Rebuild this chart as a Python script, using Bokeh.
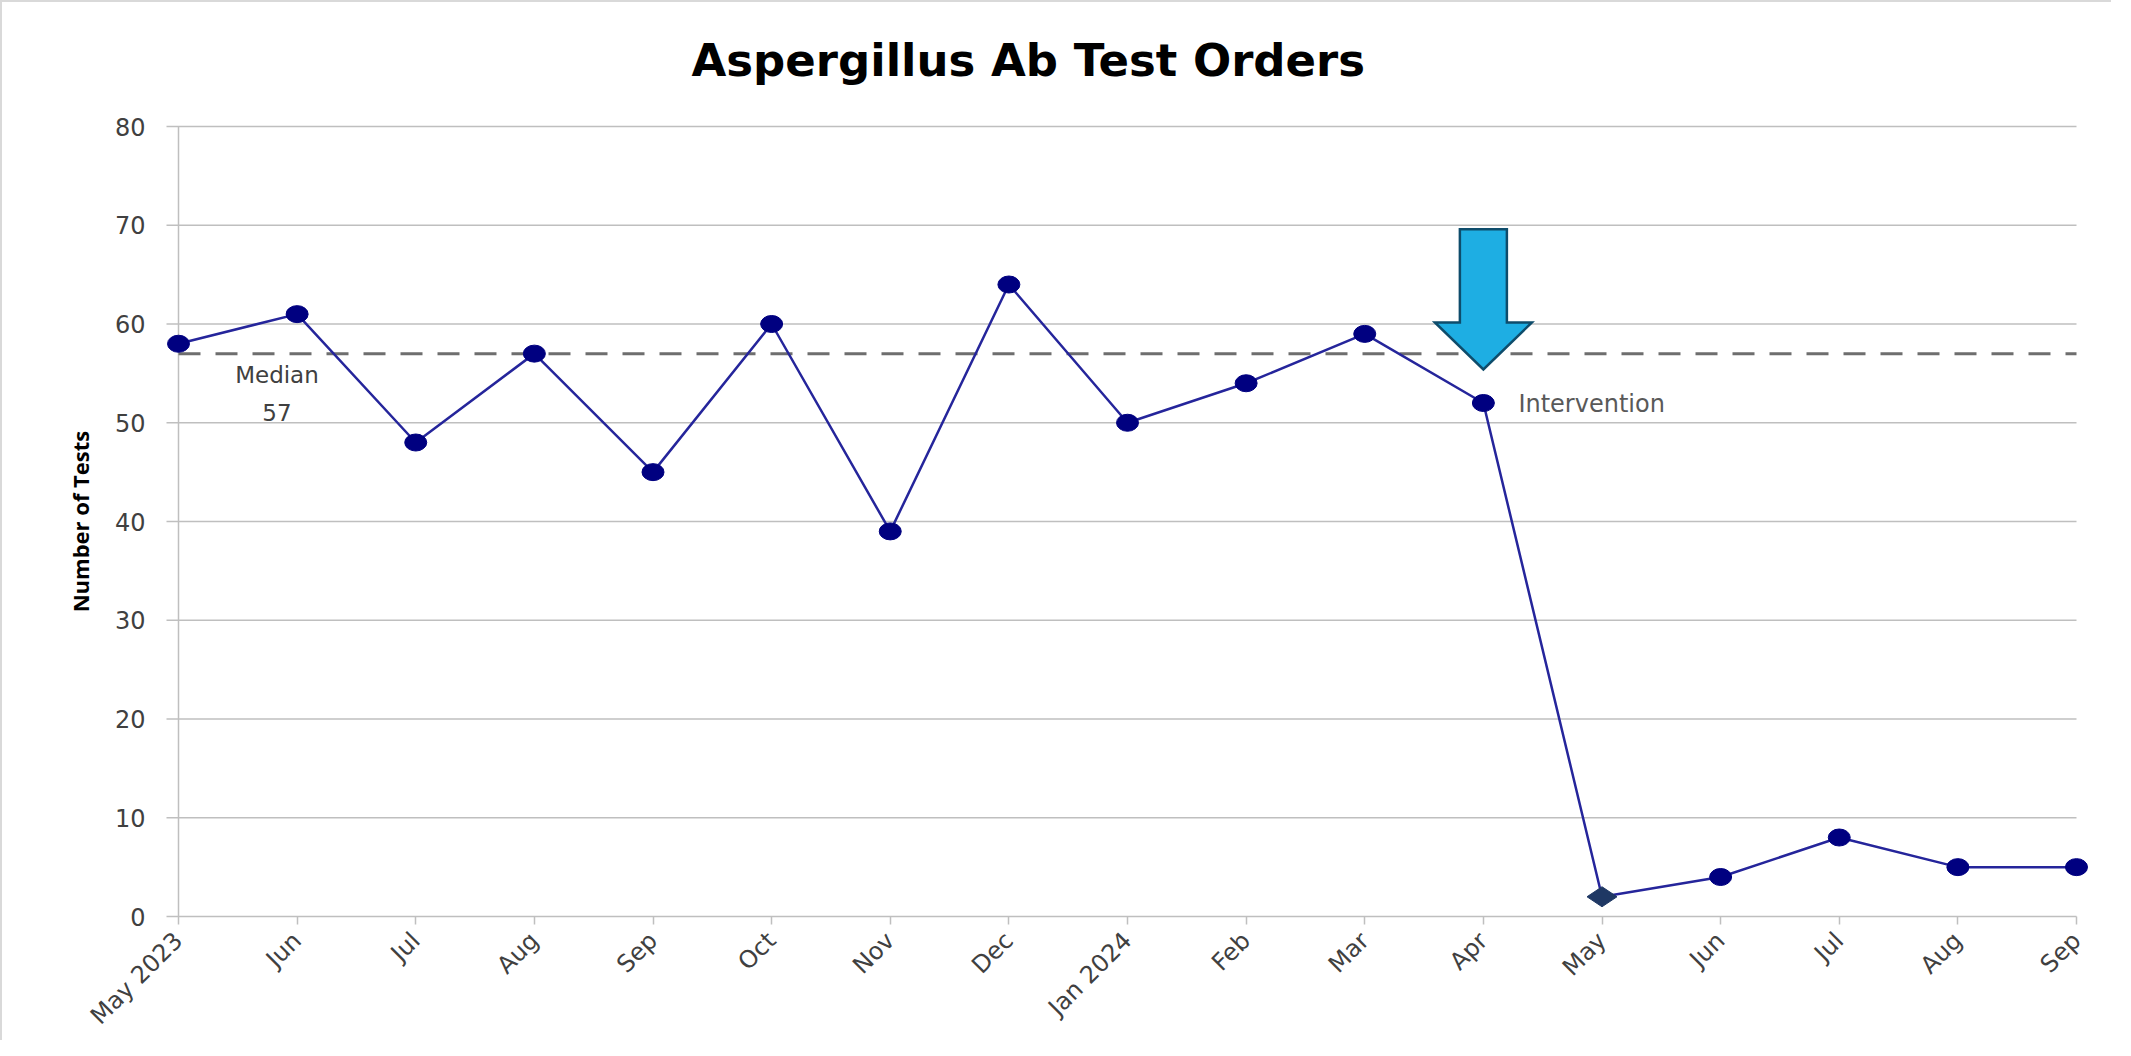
import math
from bokeh.plotting import figure
from bokeh.models import Range1d, FixedTicker
from bokeh.embed import file_html
from bokeh.resources import INLINE
from bokeh.core.properties import value

# ---------------- data ----------------
months = ["May 2023", "Jun", "Jul", "Aug", "Sep", "Oct", "Nov", "Dec",
          "Jan 2024", "Feb", "Mar", "Apr", "May", "Jun", "Jul", "Aug", "Sep"]
tests = [58, 61, 48, 57, 45, 60, 39, 64, 50, 54, 59, 52, 2, 4, 8, 5, 5]
median_value = 57
intervention_index = 11      # Apr 2024
diamond_index = 12           # first month after intervention
y_ticks = [0, 10, 20, 30, 40, 50, 60, 70, 80]

# ---------------- layout ----------------
W, H = 2111, 1040
LEFT, RIGHT, TOP, BOTTOM = 162, 23, 121, 123
frame_w = W - LEFT - RIGHT
frame_h = H - TOP - BOTTOM
n = len(months)
xs = list(range(n))
span_x = n - 1
pad_px = 14
px_per_x = (frame_w - 2 * pad_px) / span_x
xpad = pad_px / px_per_x
ypad_px = 3
y_max = y_ticks[-1]
px_per_y = (frame_h - 2 * ypad_px) / y_max
ypad = ypad_px / px_per_y

FONT = "DejaVu Sans"
GRID = "#BFBFBF"

p = figure(width=W, height=H, output_backend="svg", toolbar_location=None,
           x_range=Range1d(-xpad, span_x + xpad),
           y_range=Range1d(-ypad, y_max + ypad),
           min_border_left=LEFT, min_border_right=RIGHT,
           min_border_top=TOP, min_border_bottom=BOTTOM,
           title="Aspergillus Ab Test Orders")
p.styles = {"border-left": "2px solid #D9D9D9", "border-top": "2px solid #D9D9D9"}
p.xgrid.visible = False
p.ygrid.visible = False
p.outline_line_color = None
p.background_fill_color = "white"
p.border_fill_color = "white"

p.title.text_font = FONT
p.title.text_font_size = "45px"
p.title.text_font_style = "bold"
p.title.text_color = "#000000"
p.title.align = "left"
p.title.offset = 527
p.title.vertical_align = "bottom"
p.title.standoff = 0
p.title.padding = dict(left=0, right=0, top=0, bottom=37)

# gridlines (with small stub left of the axis) and the left axis line
stub = 12 / px_per_x
p.segment(x0=[-stub] * len(y_ticks), y0=y_ticks, x1=[span_x] * len(y_ticks), y1=y_ticks,
          line_color=GRID, line_width=1.5)
p.segment(x0=[0], y0=[0], x1=[0], y1=[y_max], line_color=GRID, line_width=1.5)

# median line
p.segment(x0=[0], y0=[median_value], x1=[span_x], y1=[median_value],
          line_color="#6E6E6E", line_width=3, line_dash="22 15")

# data line
p.line(xs, tests, line_color="#25259B", line_width=2.5)

ex = [x for x in xs if x != diamond_index]
ey = [tests[x] for x in ex]
p.ellipse(x=ex, y=ey, width=22, height=17, width_units="screen", height_units="screen",
          fill_color="#000080", line_color="#000080")
p.scatter(x=[diamond_index], y=[tests[diamond_index]], marker="diamond", angle=math.pi / 2,
          size=30, fill_color="#1F3864", line_color="#1F3864")

# intervention arrow (above the intervention point)
cx = intervention_index
tip = tests[intervention_index] + 3.4
head_base = tests[intervention_index] + 8.15
top = tests[intervention_index] + 17.6
shaft_hw = 23.5 / px_per_x
head_hw = 48.5 / px_per_x
p.patch(x=[cx - shaft_hw, cx + shaft_hw, cx + shaft_hw, cx + head_hw, cx, cx - head_hw, cx - shaft_hw],
        y=[top, top, head_base, head_base, tip, head_base, head_base],
        fill_color="#1EAEE3", line_color="#0E4C6B", line_width=2.5, line_join="miter")

# annotations
p.text(x=[intervention_index + 35 / px_per_x], y=[tests[intervention_index] - 0.15], text=["Intervention"],
       text_font=value(FONT), text_font_size="24px", text_color="#595959",
       text_align="left", text_baseline="middle")
p.text(x=[0.83, 0.83], y=[54.8, 51.0], text=["Median", str(median_value)],
       text_font=value(FONT), text_font_size="23px", text_color="#404040",
       text_align="center", text_baseline="middle")

# axes
p.yaxis.ticker = FixedTicker(ticks=y_ticks)
p.yaxis.axis_line_color = None
p.yaxis.major_tick_line_color = None
p.yaxis.minor_tick_line_color = None
p.yaxis.major_label_standoff = 13
p.yaxis.major_label_text_font = FONT
p.yaxis.major_label_text_font_size = "24px"
p.yaxis.major_label_text_color = "#404040"
p.yaxis.axis_label = "Number of Tests"
p.yaxis.axis_label_text_font = "Open Sans"
p.yaxis.axis_label_text_font_style = "bold"
p.yaxis.axis_label_text_font_size = "22px"
p.yaxis.axis_label_text_color = "#000000"
p.yaxis.axis_label_standoff = 17

p.xaxis.ticker = FixedTicker(ticks=xs)
p.xaxis.major_label_overrides = {i: m for i, m in enumerate(months)}
p.xaxis.major_label_orientation = math.pi / 4
p.xaxis.axis_line_color = None
p.xaxis.major_tick_line_color = GRID
p.xaxis.major_tick_line_width = 1.5
p.xaxis.major_tick_in = 3
p.xaxis.major_tick_out = 5
p.xaxis.minor_tick_line_color = None
p.xaxis.major_label_standoff = 12
p.xaxis.major_label_text_font = FONT
p.xaxis.major_label_text_font_size = "24px"
p.xaxis.major_label_text_color = "#404040"

open("out.html", "w").write(file_html(p, INLINE))
